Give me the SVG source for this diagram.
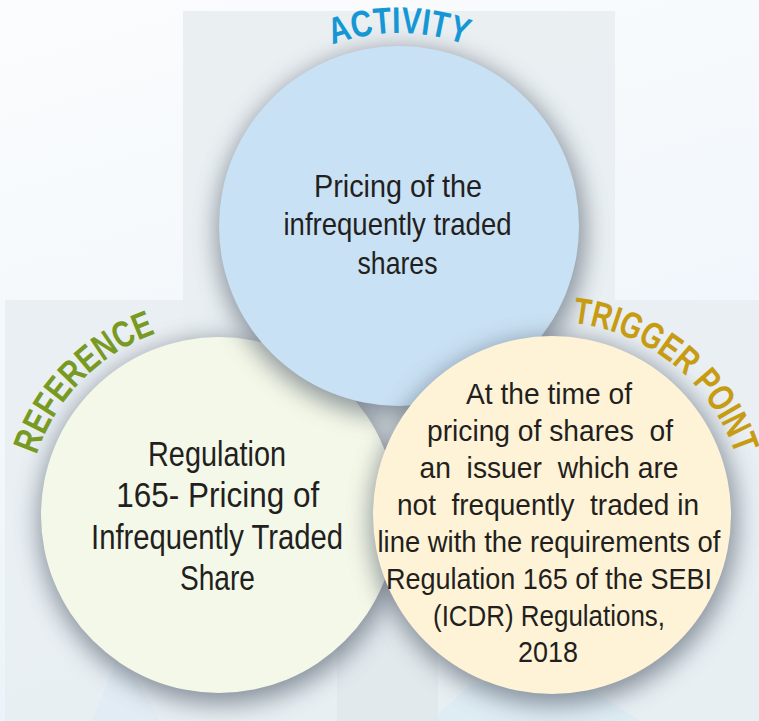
<svg xmlns="http://www.w3.org/2000/svg" width="759" height="721" viewBox="0 0 759 721">
  <defs>
    <linearGradient id="bgGrad" x1="0" y1="0" x2="0.3" y2="1">
      <stop offset="0" stop-color="#fbfcfd"/>
      <stop offset="0.5" stop-color="#f3f8fc"/>
      <stop offset="1" stop-color="#eaf3fa"/>
    </linearGradient>
    <filter id="soft" x="-30%" y="-30%" width="160%" height="160%">
      <feGaussianBlur stdDeviation="12"/>
    </filter>
    <path id="arcActivity" d="M288.3,67.9 A193,193 0 0 1 509.7,67.9"/>
    <path id="arcReference" d="M29.63,483.31 A192,192 0 0 1 184.01,326.22"/>
    <path id="arcTrigger" d="M548.63,322.03 A193,193 0 0 1 741.45,478.17"/>
    <style>
      .shadow { fill: #5a6572; opacity: 0.68; filter: url(#soft); }
      .body { font-family: "Liberation Sans Narrow", "Liberation Sans", Arial, sans-serif; fill: #231f20; text-anchor: middle; white-space: pre; }
      .t32 { font-size: 32px; }
      .t35 { font-size: 35px; }
      .t30 { font-size: 30px; }
      .label { font-family: "Liberation Sans Narrow", "Liberation Sans", Arial, sans-serif; font-weight: bold; font-size: 37px; text-anchor: middle; }
      .panel { fill: #e8edf1; }
    </style>
  </defs>

  <!-- background -->
  <rect x="0" y="0" width="759" height="721" fill="url(#bgGrad)"/>
  <rect class="panel" x="5" y="300" width="754" height="421" opacity="0.85"/>
  <rect class="panel" x="183" y="11" width="432" height="431" opacity="0.9"/>
  <rect x="337" y="442" width="101" height="279" fill="#000" opacity="0.025"/>
  <polygon points="92,721 120,650 160,721" fill="#d6e9f6" opacity="0.35"/>
  <polygon points="430,721 470,685 560,668 640,721" fill="#d2e8f6" opacity="0.45"/>

  <g id="connectors"></g>

  <g id="node-reference">
    <circle class="shadow" cx="221" cy="522" r="182"/>
    <circle cx="219" cy="515" r="178" fill="#f4f8e8"/>
    <text class="label" fill="#789a22"><textPath href="#arcReference" startOffset="50%" textLength="176" lengthAdjust="spacingAndGlyphs">REFERENCE</textPath></text>
    <text class="body t35" x="217" y="466" textLength="138" lengthAdjust="spacingAndGlyphs">Regulation</text>
    <text class="body t35" x="217.7" y="507" textLength="203" lengthAdjust="spacingAndGlyphs">165- Pricing of</text>
    <text class="body t35" x="217" y="549" textLength="252" lengthAdjust="spacingAndGlyphs">Infrequently Traded</text>
    <text class="body t35" x="217.5" y="590" textLength="75" lengthAdjust="spacingAndGlyphs">Share</text>
  </g>

  <g id="node-activity">
    <circle class="shadow" cx="401" cy="233" r="184"/>
    <circle cx="399" cy="226" r="180" fill="#c9e1f4"/>
    <text class="label" fill="#1597d5"><textPath href="#arcActivity" startOffset="50%" textLength="136" lengthAdjust="spacingAndGlyphs">ACTIVITY</textPath></text>
    <text class="body t32" x="398" y="197" textLength="168" lengthAdjust="spacingAndGlyphs">Pricing of the</text>
    <text class="body t32" x="397.5" y="235" textLength="228" lengthAdjust="spacingAndGlyphs">infrequently traded</text>
    <text class="body t32" x="397.5" y="274" textLength="80" lengthAdjust="spacingAndGlyphs">shares</text>
  </g>

  <g id="node-trigger">
    <circle class="shadow" cx="554" cy="522" r="183"/>
    <circle cx="552" cy="515" r="179" fill="#fef3d6"/>
    <text class="label" fill="#c79b12"><textPath href="#arcTrigger" startOffset="50%" textLength="222" lengthAdjust="spacingAndGlyphs">TRIGGER POINT</textPath></text>
    <text class="body t30" x="549" y="404" textLength="166" lengthAdjust="spacingAndGlyphs">At the time of</text>
    <text class="body t30" x="550" y="441" textLength="246" lengthAdjust="spacingAndGlyphs">pricing of shares  of</text>
    <text class="body t30" x="549" y="478" textLength="259" lengthAdjust="spacingAndGlyphs">an  issuer  which are</text>
    <text class="body t30" x="548" y="515" textLength="302" lengthAdjust="spacingAndGlyphs">not  frequently  traded in</text>
    <text class="body t30" x="549" y="552" textLength="343" lengthAdjust="spacingAndGlyphs">line with the requirements of</text>
    <text class="body t30" x="549" y="589" textLength="326" lengthAdjust="spacingAndGlyphs">Regulation 165 of the SEBI</text>
    <text class="body t30" x="549" y="626" textLength="232" lengthAdjust="spacingAndGlyphs">(ICDR) Regulations,</text>
    <text class="body t30" x="548" y="662" textLength="60" lengthAdjust="spacingAndGlyphs">2018</text>
  </g>
</svg>
